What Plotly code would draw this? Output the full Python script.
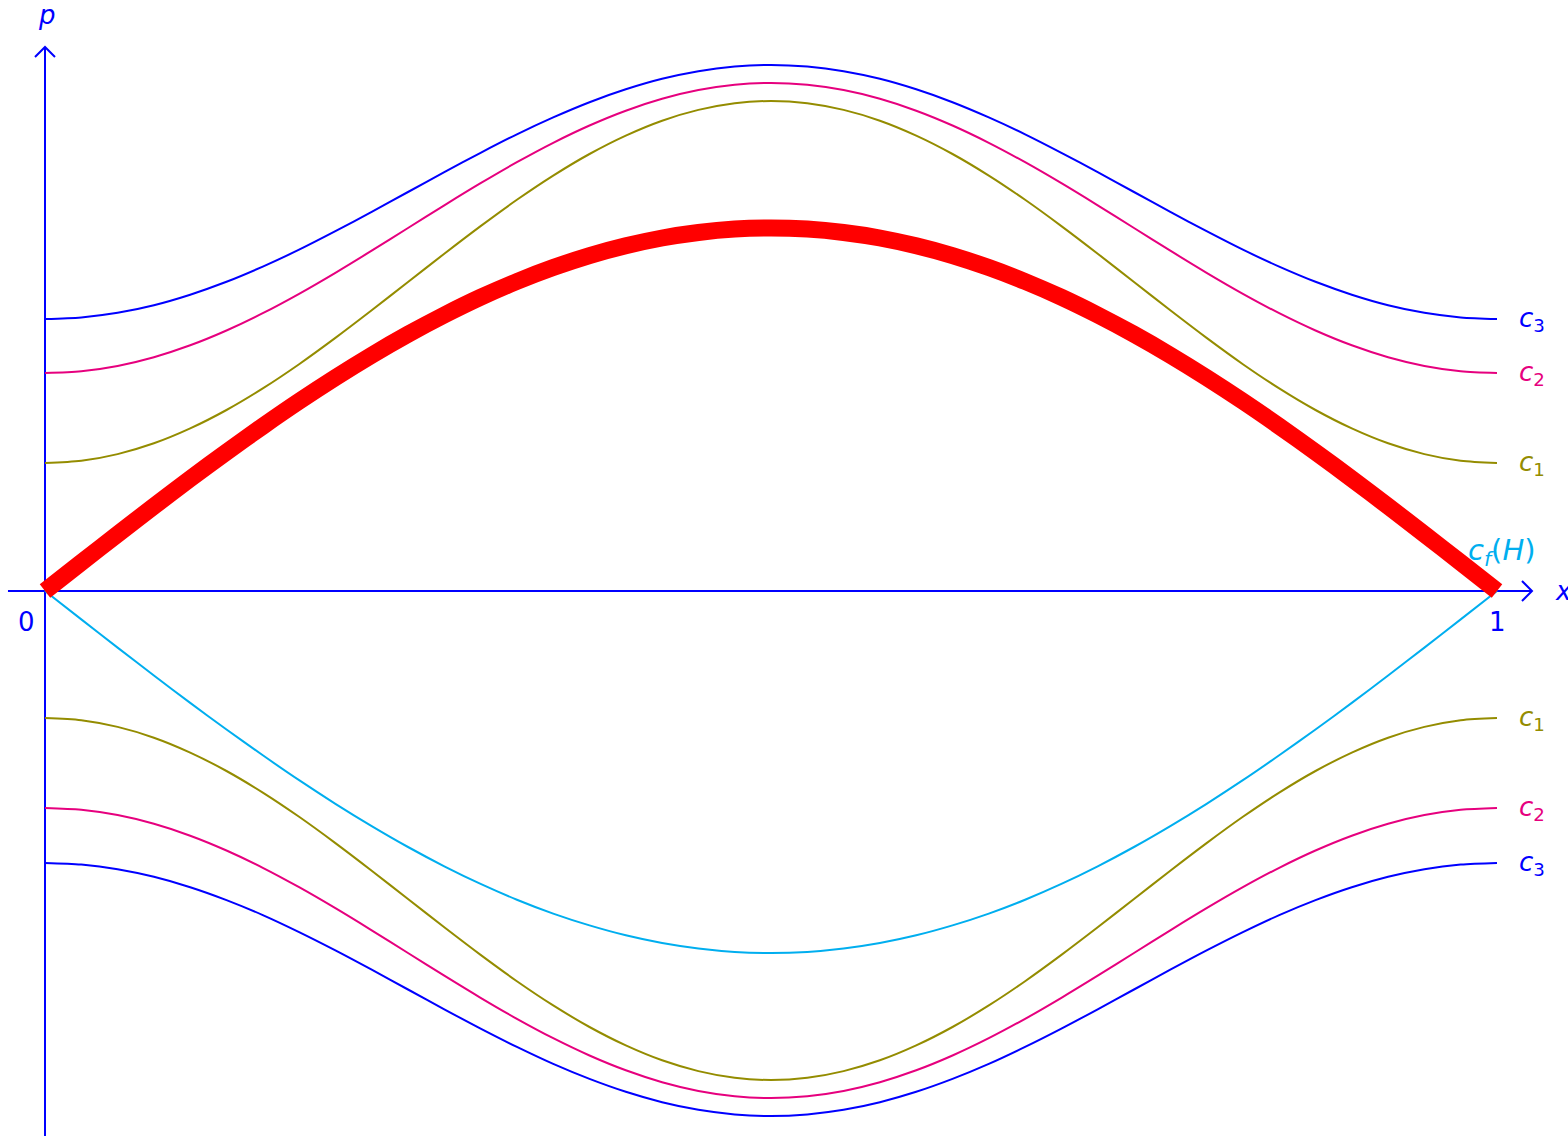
import plotly.graph_objects as go

# Sample positions along the period 0 <= x <= 1
x_grid = [0.000, 0.025, 0.050, 0.075, 0.100, 0.125, 0.150, 0.175, 0.200, 0.225,
          0.250, 0.275, 0.300, 0.325, 0.350, 0.375, 0.400, 0.425, 0.450, 0.475,
          0.500, 0.525, 0.550, 0.575, 0.600, 0.625, 0.650, 0.675, 0.700, 0.725,
          0.750, 0.775, 0.800, 0.825, 0.850, 0.875, 0.900, 0.925, 0.950, 0.975, 1.000]

# Level curves above the x-axis (momentum p)
c3_upper = [2.720, 2.736, 2.782, 2.858, 2.963, 3.092, 3.244, 3.413, 3.598, 3.791,
            3.990, 4.189, 4.382, 4.567, 4.736, 4.888, 5.017, 5.122, 5.198, 5.244,
            5.260, 5.244, 5.198, 5.122, 5.017, 4.888, 4.736, 4.567, 4.382, 4.189,
            3.990, 3.791, 3.598, 3.413, 3.244, 3.092, 2.963, 2.858, 2.782, 2.736, 2.720]
c2_upper = [2.180, 2.198, 2.251, 2.338, 2.457, 2.605, 2.778, 2.972, 3.182, 3.403,
            3.630, 3.857, 4.078, 4.288, 4.482, 4.655, 4.803, 4.922, 5.009, 5.062,
            5.080, 5.062, 5.009, 4.922, 4.803, 4.655, 4.482, 4.288, 4.078, 3.857,
            3.630, 3.403, 3.182, 2.972, 2.778, 2.605, 2.457, 2.338, 2.251, 2.198, 2.180]
c1_upper = [1.280, 1.302, 1.369, 1.477, 1.626, 1.810, 2.026, 2.268, 2.531, 2.807,
            3.090, 3.373, 3.649, 3.912, 4.154, 4.370, 4.554, 4.703, 4.811, 4.878,
            4.900, 4.878, 4.811, 4.703, 4.554, 4.370, 4.154, 3.912, 3.649, 3.373,
            3.090, 2.807, 2.531, 2.268, 2.026, 1.810, 1.626, 1.477, 1.369, 1.302, 1.280]
sep_upper = [0.000, 0.285, 0.568, 0.847, 1.122, 1.389, 1.648, 1.897, 2.134, 2.358,
             2.567, 2.760, 2.937, 3.095, 3.234, 3.354, 3.452, 3.530, 3.585, 3.619,
             3.630, 3.619, 3.585, 3.530, 3.452, 3.354, 3.234, 3.095, 2.937, 2.760,
             2.567, 2.358, 2.134, 1.897, 1.648, 1.389, 1.122, 0.847, 0.568, 0.285, 0.000]

# Level curves below the x-axis
sep_lower = [0.000, -0.284, -0.566, -0.845, -1.119, -1.385, -1.643, -1.892, -2.128, -2.351,
             -2.560, -2.753, -2.929, -3.087, -3.226, -3.344, -3.443, -3.520, -3.575, -3.609,
             -3.620, -3.609, -3.575, -3.520, -3.443, -3.344, -3.226, -3.087, -2.929, -2.753,
             -2.560, -2.351, -2.128, -1.892, -1.643, -1.385, -1.119, -0.845, -0.566, -0.284, 0.000]
c1_lower = [-1.270, -1.292, -1.359, -1.467, -1.616, -1.800, -2.016, -2.258, -2.521, -2.797,
            -3.080, -3.363, -3.639, -3.902, -4.144, -4.360, -4.544, -4.693, -4.801, -4.868,
            -4.890, -4.868, -4.801, -4.693, -4.544, -4.360, -4.144, -3.902, -3.639, -3.363,
            -3.080, -2.797, -2.521, -2.258, -2.016, -1.800, -1.616, -1.467, -1.359, -1.292, -1.270]
c2_lower = [-2.170, -2.188, -2.241, -2.328, -2.447, -2.595, -2.768, -2.962, -3.172, -3.393,
            -3.620, -3.847, -4.068, -4.278, -4.472, -4.645, -4.793, -4.912, -4.999, -5.052,
            -5.070, -5.052, -4.999, -4.912, -4.793, -4.645, -4.472, -4.278, -4.068, -3.847,
            -3.620, -3.393, -3.172, -2.962, -2.768, -2.595, -2.447, -2.328, -2.241, -2.188, -2.170]
c3_lower = [-2.720, -2.736, -2.782, -2.858, -2.962, -3.091, -3.241, -3.411, -3.594, -3.787,
            -3.985, -4.183, -4.376, -4.559, -4.729, -4.879, -5.008, -5.112, -5.188, -5.234,
            -5.250, -5.234, -5.188, -5.112, -5.008, -4.879, -4.729, -4.559, -4.376, -4.183,
            -3.985, -3.787, -3.594, -3.411, -3.241, -3.091, -2.962, -2.858, -2.782, -2.736, -2.720]

# Curve labels at the right end
level_labels = ["<i>c</i><sub>3</sub>", "<i>c</i><sub>2</sub>", "<i>c</i><sub>1</sub>"]
sep_label = "<i>c</i><sub><i>f</i></sub>(<i>H</i>)"
tick_labels = ["0", "1"]

BLUE = "#0000FF"
MAGENTA = "#E6007E"
OLIVE = "#948C00"
CYAN = "#00AEEF"
RED = "#FF0000"
FONT = "DejaVu Sans"
FS = 26

fig = go.Figure()

thin = [
    (c3_upper, BLUE), (c2_upper, MAGENTA), (c1_upper, OLIVE), (sep_upper, CYAN),
    (sep_lower, CYAN), (c1_lower, OLIVE), (c2_lower, MAGENTA), (c3_lower, BLUE),
]
for ys, col in thin:
    fig.add_trace(go.Scatter(x=x_grid, y=ys, mode="lines",
                             line=dict(color=col, width=2, shape="spline", smoothing=0.8),
                             hoverinfo="skip", showlegend=False))

# Highlighted upper separatrix
fig.add_trace(go.Scatter(x=x_grid, y=sep_upper, mode="lines",
                         line=dict(color=RED, width=17, shape="spline", smoothing=0.8),
                         hoverinfo="skip", showlegend=False))

x_min, x_max = -0.03099, 1.04890
p_min, p_max = -5.45, 5.91

shapes = [
    # x-axis and p-axis
    dict(type="line", xref="x", yref="y", x0=-0.0255, x1=1.0241, y0=0, y1=0,
         line=dict(color=BLUE, width=2), layer="below"),
    dict(type="line", xref="x", yref="y", x0=0, x1=0, y0=p_min, y1=5.44,
         line=dict(color=BLUE, width=2), layer="below"),
    # arrow tips
    dict(type="path", xref="x", yref="y", xsizemode="pixel", ysizemode="pixel",
         xanchor=1.0241, yanchor=0, path="M-10,10 Q-3,3 0,0 Q-3,-3 -10,-10",
         line=dict(color=BLUE, width=2)),
    dict(type="path", xref="x", yref="y", xsizemode="pixel", ysizemode="pixel",
         xanchor=0, yanchor=5.44, path="M-10,-10 Q-3,-3 0,0 Q3,-3 10,-10",
         line=dict(color=BLUE, width=2)),
]

annotations = []
label_x = 1.0138
for txt, ys, col in zip(level_labels, [c3_upper, c2_upper, c1_upper], [BLUE, MAGENTA, OLIVE]):
    annotations.append(dict(x=label_x, y=ys[-1], text=txt, showarrow=False,
                            xanchor="left", yanchor="middle",
                            font=dict(family=FONT, size=FS, color=col)))
for txt, ys, col in zip(level_labels, [c3_lower, c2_lower, c1_lower], [BLUE, MAGENTA, OLIVE]):
    annotations.append(dict(x=label_x, y=ys[-1], text=txt, showarrow=False,
                            xanchor="left", yanchor="middle",
                            font=dict(family=FONT, size=FS, color=col)))
annotations.append(dict(x=0.9786, y=0.39, text=sep_label, showarrow=False,
                        xanchor="left", yanchor="middle",
                        font=dict(family=FONT, size=29, color=CYAN)))
annotations.append(dict(x=-0.0124, y=-0.31, text=tick_labels[0], showarrow=False,
                        xanchor="center", yanchor="middle",
                        font=dict(family=FONT, size=FS, color=BLUE)))
annotations.append(dict(x=1.0, y=-0.31, text=tick_labels[1], showarrow=False,
                        xanchor="center", yanchor="middle",
                        font=dict(family=FONT, size=FS, color=BLUE)))
annotations.append(dict(x=1.0385, y=0.0, text="<i>x</i>", showarrow=False,
                        xanchor="left", yanchor="middle",
                        font=dict(family=FONT, size=FS, color=BLUE)))
annotations.append(dict(x=0.0014, y=5.76, text="<i>p</i>", showarrow=False,
                        xanchor="center", yanchor="middle",
                        font=dict(family=FONT, size=FS, color=BLUE)))

fig.update_layout(
    width=1568, height=1136, autosize=False,
    margin=dict(l=0, r=0, t=0, b=0),
    paper_bgcolor="white", plot_bgcolor="white",
    xaxis=dict(range=[x_min, x_max], visible=False, fixedrange=True),
    yaxis=dict(range=[p_min, p_max], visible=False, fixedrange=True),
    shapes=shapes, annotations=annotations, showlegend=False,
)

fig.write_html("out.html")
